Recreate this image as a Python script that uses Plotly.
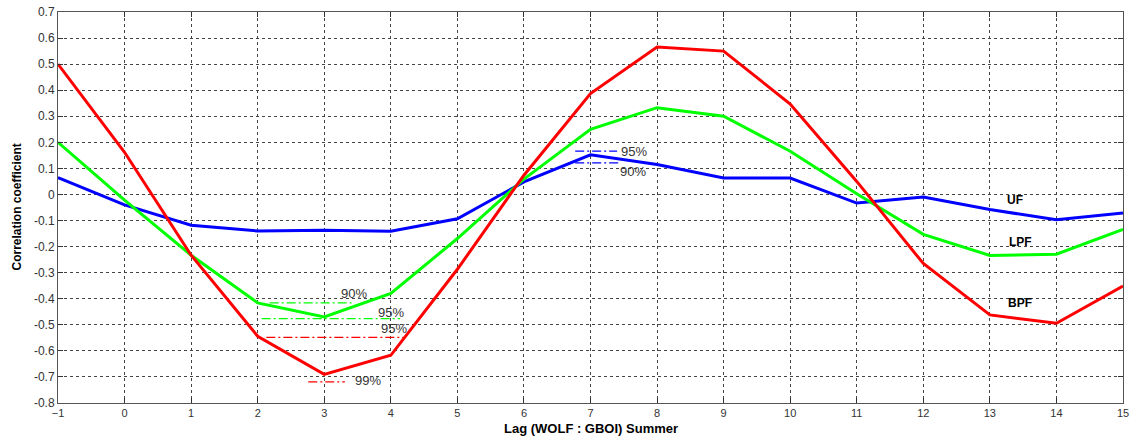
import plotly.graph_objects as go

lags = list(range(-1, 16))
uf  = [0.065, -0.04, -0.118, -0.14, -0.137, -0.141, -0.093, 0.048, 0.152, 0.115, 0.063, 0.063, -0.033, -0.01, -0.058, -0.097, -0.071]
lpf = [0.20, -0.022, -0.233, -0.416, -0.47, -0.38, -0.169, 0.059, 0.25, 0.333, 0.30, 0.166, 0.003, -0.153, -0.234, -0.229, -0.134]
bpf = [0.50, 0.162, -0.233, -0.544, -0.69, -0.617, -0.287, 0.074, 0.387, 0.566, 0.55, 0.347, 0.05, -0.265, -0.462, -0.494, -0.351]

# significance levels: (x_start, x_end, level, label, label_x, label_y, color)
sig_lines = [
    (2.18, 3.41, -0.416, "90%", 3.45, -0.38, "#00ff00"),
    (2.06, 4.14, -0.476, "95%", 4.01, -0.451, "#00ff00"),
    (2.13, 4.19, -0.548, "95%", 4.05, -0.514, "#ff0000"),
    (2.76, 3.31, -0.719, "99%", 3.66, -0.715, "#ff0000"),
    (6.77, 7.40, 0.166, "95%", 7.65, 0.163, "#0000ff"),
    (6.77, 7.42, 0.121, "90%", 7.64, 0.09, "#0000ff"),
]

series_labels = [("UF", 13.38, -0.02), ("LPF", 13.46, -0.182), ("BPF", 13.46, -0.417)]

x_title = "Lag (WOLF : GBOI) Summer"
y_title = "Correlation coefficient"

x_ticks = list(range(-1, 16))
y_ticks = [round(-0.8 + 0.1 * i, 1) for i in range(16)]

FONT = "Arial, Liberation Sans, sans-serif"

fig = go.Figure()

for xs, xe, lvl, lab, lx, ly, col in sig_lines:
    fig.add_trace(go.Scatter(x=[xs, xe], y=[lvl, lvl], mode="lines",
                             line=dict(color=col, width=1.2, dash="9px,3px,2px,3px"),
                             showlegend=False, hoverinfo="skip"))

fig.add_trace(go.Scatter(x=lags, y=uf, mode="lines", name="UF",
                         line=dict(color="#0000ff", width=3)))
fig.add_trace(go.Scatter(x=lags, y=lpf, mode="lines", name="LPF",
                         line=dict(color="#00ff00", width=3)))
fig.add_trace(go.Scatter(x=lags, y=bpf, mode="lines", name="BPF",
                         line=dict(color="#ff0000", width=3)))

for xs, xe, lvl, lab, lx, ly, col in sig_lines:
    fig.add_annotation(x=lx, y=ly, text=lab, showarrow=False,
                       font=dict(family=FONT, size=13, color="#333333"))

for lab, lx, ly in series_labels:
    fig.add_annotation(x=lx, y=ly, text="<b>" + lab + "</b>", showarrow=False,
                       font=dict(family=FONT, size=12, color="#000000"))

# axis titles
fig.add_annotation(xref="paper", yref="paper", x=0.5, y=0, yshift=-25,
                   xanchor="center", yanchor="middle", showarrow=False,
                   text="<b>" + x_title + "</b>",
                   font=dict(family=FONT, size=13, color="#000000"))
fig.add_annotation(xref="paper", yref="paper", x=0, y=0.5, xshift=-42,
                   xanchor="center", yanchor="middle", showarrow=False, textangle=-90,
                   text="<b>" + y_title + "</b>",
                   font=dict(family=FONT, size=12, color="#000000"))

axis_common = dict(
    showgrid=True, gridcolor="#444444", griddash="dot", gridwidth=1,
    showline=True, linecolor="#555555", linewidth=1, mirror="ticks",
    ticks="inside", ticklen=5, tickcolor="#333333", zeroline=False,
    automargin=False,
)

fig.update_xaxes(range=[-1, 15], tickvals=x_ticks, **axis_common,
                 tickfont=dict(family=FONT, size=11, color="#333333"))
fig.update_yaxes(range=[-0.8, 0.7], tickvals=y_ticks, ticktext=[f"{v:g}" for v in y_ticks], **axis_common,
                 tickfont=dict(family=FONT, size=12, color="#333333"))

fig.update_layout(
    width=1139, height=436,
    margin=dict(l=58, r=16, t=12, b=33),
    plot_bgcolor="white", paper_bgcolor="white",
    showlegend=False,
)

fig.write_html("out.html")
